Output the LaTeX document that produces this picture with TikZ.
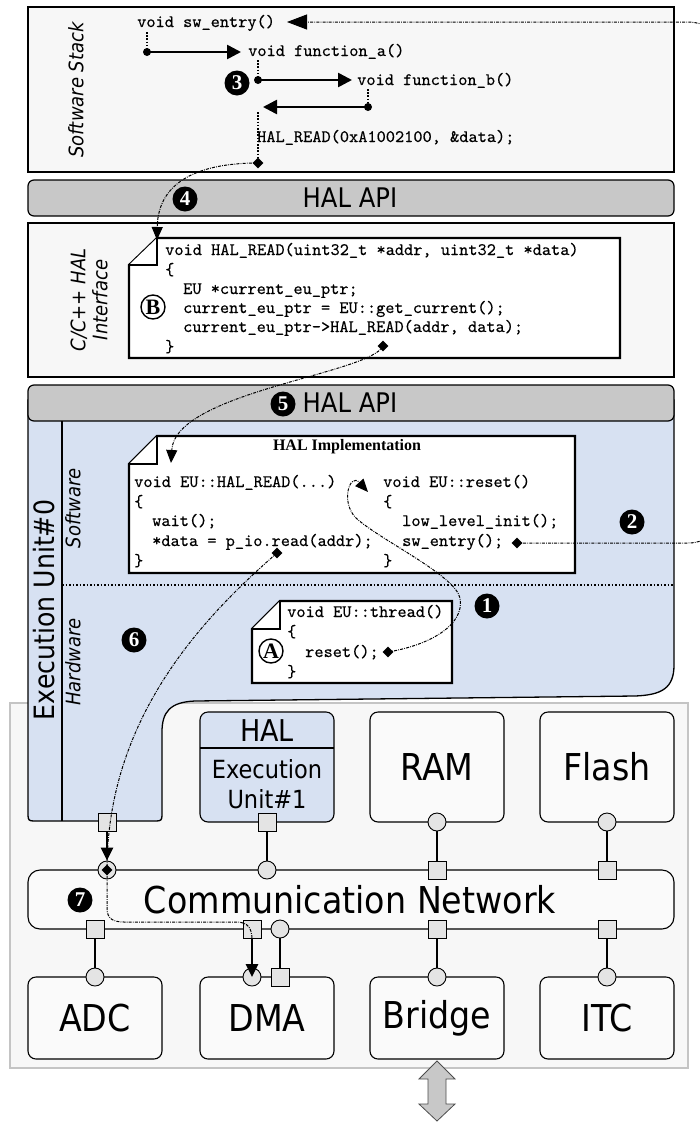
\documentclass[tikz,border=0pt]{standalone}
\usepackage{fontspec}
\newfontfamily\dv[FakeStretch=0.9]{DejaVu Sans}
\newfontfamily\tms{Liberation Serif}
\newfontfamily\cf[Extension=.otf, FakeBold=0.35]{lmmono10-regular}
\usetikzlibrary{arrows.meta,shapes.geometric}
\definecolor{eublue}{HTML}{D7E1F2}
\definecolor{bargray}{HTML}{C8C8C8}
\definecolor{panel}{HTML}{F7F7F7}
\definecolor{portgray}{HTML}{E4E4E4}
\definecolor{outerline}{HTML}{C4C4C4}
\definecolor{blockfill}{HTML}{FAFAFA}
\newcommand\codefont{\cf\fontsize{17.5}{19.5}\selectfont}
\newcommand\fsz[1]{\fontsize{#1}{#1}\selectfont}
\begin{document}
\begin{tikzpicture}[x=1pt,y=-1pt,
  code/.style={font=\codefont, anchor=base west, inner sep=0pt},
  side/.style={font=\dv\itshape\fsz{20}, rotate=90, inner sep=0pt, align=center},
  panelbox/.style={fill=panel, draw=black, line width=1.2pt},
  bar/.style={fill=bargray, draw=black, line width=1.2pt, rounded corners=6pt},
  notebox/.style={fill=white, draw=black, line width=2.2pt, line join=miter},
  blk/.style={draw=black, fill=blockfill, line width=1.1pt, rounded corners=8pt, minimum width=134pt, inner sep=0pt, font=\dv\fsz{37}},
  psq/.style={rectangle, draw=black, fill=portgray, line width=0.9pt, minimum size=18pt, inner sep=0pt},
  pci/.style={circle, draw=black, fill=portgray, line width=0.9pt, minimum size=18pt, inner sep=0pt},
  wire/.style={line width=2.5pt},
  bigarrow/.style={line width=2.6pt, -{Triangle[length=14pt,width=14pt]}},
  portarrow/.style={line width=2.5pt, -{Triangle[length=13pt,width=12pt]}},
  flow/.style={line width=1pt, dash pattern=on 3pt off 1.2pt on 0.8pt off 1.2pt},
  flowarrow/.style={flow, -{Triangle[length=13pt,width=11pt]}},
  vdots/.style={line width=1.8pt, dash pattern=on 1.6pt off 1.6pt},
  cdot/.style={circle, fill=black, inner sep=0pt, minimum size=8pt},
  dmd/.style={diamond, fill=black, inner sep=0pt, minimum size=11pt},
  badge/.style={circle, fill=black, text=white, inner sep=0pt, minimum size=25pt, font=\tms\bfseries\fsz{21}},
  letter/.style={circle, draw=black, line width=1.4pt, inner sep=0pt, minimum size=24pt, font=\tms\bfseries\fsz{22}},
]
\useasboundingbox (0,0) rectangle (700,1122);
\fill[white] (0,0) rectangle (700,1122);
% system box
\draw[fill=panel, draw=outerline, line width=1.5pt] (10,703) rectangle (688,1068);
% layers
\draw[panelbox] (28,7) rectangle (674,172);
\draw[bar] (28,180) rectangle (674,216);
\draw[panelbox] (28,223) rectangle (674,377);
% execution unit #0
\draw[fill=eublue, draw=black, line width=1.3pt] (28,400) -- (674,400) -- (674,665)
  .. controls (674,688) and (662,695) .. (635,696) -- (195,701)
  .. controls (170,702) and (162,712) .. (162,732) -- (162,815)
  .. controls (162,820) and (161,821) .. (156,821) -- (34,821)
  .. controls (29,821) and (28,820) .. (28,815) -- cycle;
\draw[bar] (28,385) rectangle (674,421);
\draw[line width=1.1pt] (62,421) -- (62,821);
\draw[line width=1.5pt, dotted] (62,585) -- (674,585);

% layer labels
\node[font=\dv\fsz{27}] (api1) at (350,198) {HAL API};
\node[font=\dv\fsz{27}] (api2) at (350,403) {HAL API};
\node[side] (sws) at (76,90) {Software Stack};
\node[side, font=\dv\itshape\fontsize{20}{22}\selectfont] (cif) at (89,300) {C/C++ HAL\\Interface};
\node[font=\dv\fsz{28}, rotate=90, inner sep=0pt] (eu0) at (44,610) {Execution Unit\#0};
\node[side] (swl) at (73,508) {Software};
\node[side] (hwl) at (73,662) {Hardware};

% software stack calls
\node[code] (t1) at (137,27) {void sw\_entry()};
\node[code] (t2) at (248,56) {void function\_a()};
\node[code] (t3) at (357,85) {void function\_b()};
\draw[vdots] (258,112) -- (258,160);
\node[code] (t4) at (257,142) {HAL\_READ(0xA1002100, \&data);};
\coordinate (v1) at (147,32);
\node[cdot] (c1) at (147,52) {};
\coordinate (e1) at (241,52);
\draw[vdots] (v1) -- (c1.center);
\draw[bigarrow] (c1.center) -- (e1);
\coordinate (v2) at (258,60);
\node[cdot] (c2) at (258,80) {};
\coordinate (e2) at (352,80);
\draw[vdots] (v2) -- (c2.center);
\draw[bigarrow] (c2.center) -- (e2);
\coordinate (v3) at (368,89);
\node[cdot] (c3) at (368,107) {};
\coordinate (e3) at (263,107);
\draw[vdots] (v3) -- (c3.center);
\draw[bigarrow] (c3.center) -- (e3);

% note B
\draw[notebox] (157,238) -- (620,238) -- (620,358) -- (129,358) -- (129,265) -- cycle;
\draw[notebox] (129,265) -- (157,265) -- (157,238);
\node[code] (b1) at (165,255) {void HAL\_READ(uint32\_t *addr, uint32\_t *data)};
\node[code] (b2) at (165,275) {\{};
\node[code] (b3) at (183,294) {EU *current\_eu\_ptr;};
\node[code] (b4) at (183,313) {current\_eu\_ptr = EU::get\_current();};
\node[code] (b5) at (183,332) {current\_eu\_ptr->HAL\_READ(addr, data);};
\node[code] (b6) at (165,352) {\}};
\node[letter] (lb) at (153,307) {B};

% HAL implementation note
\draw[notebox] (157,436) -- (575,436) -- (575,573) -- (129,573) -- (129,464) -- cycle;
\draw[notebox] (129,464) -- (157,464) -- (157,436);
\node[font=\tms\bfseries\fsz{16}] (himp) at (347,447) {HAL Implementation};
\node[code] (h1) at (134,487) {void EU::HAL\_READ(...)};
\node[code] (h2) at (134,507) {\{};
\node[code] (h3) at (152,526) {wait();};
\node[code] (h4) at (152,546) {*data = p\_io.read(addr);};
\node[code] (h5) at (134,566) {\}};
\node[code] (r1) at (383,487) {void EU::reset()};
\node[code] (r2) at (383,507) {\{};
\node[code] (r3) at (402,526) {low\_level\_init();};
\node[code] (r4) at (402,546) {sw\_entry();};
\node[code] (r5) at (383,566) {\}};

% note A
\draw[notebox] (280,601) -- (452,601) -- (452,683) -- (252,683) -- (252,629) -- cycle;
\draw[notebox] (252,629) -- (280,629) -- (280,601);
\node[code] (a1t) at (287,617) {void EU::thread()};
\node[code] (a2t) at (287,637) {\{};
\node[code] (a3t) at (305,657) {reset();};
\node[code] (a4t) at (287,677) {\}};
\node[letter] (la) at (271,651) {A};

% hardware blocks
\node[blk, fill=eublue, minimum height=110pt] (eu1) at (267,767) {};
\draw[line width=1.1pt] (200,748) -- (334,748);
\node[font=\dv\fsz{30}] (eu1h) at (267,731) {HAL};
\node[font=\dv\fontsize{25}{30}\selectfont, align=center] (eu1t) at (267,784) {Execution\\Unit\#1};
\node[blk, minimum height=110pt] (ram) at (437,767) {RAM};
\node[blk, minimum height=110pt] (flash) at (607,767) {Flash};
\node[blk, minimum width=646pt, minimum height=59pt, rounded corners=12pt] (net) at (351,899.5) {};
\node[font=\dv\fsz{37}] (netl) at (350,900) {Communication Network};
\node[blk, minimum height=82pt] (adc) at (95,1018) {ADC};
\node[blk, minimum height=82pt] (dma) at (267,1018) {DMA};
\node[blk, minimum height=82pt] (bridge) at (437,1018) {Bridge};
\node[blk, minimum height=82pt] (itc) at (607,1018) {ITC};

% ports
\node[psq] (eu0p) at (107,822) {};
\node[pci] (netA) at (107,870) {};
\node[psq] (eu1p) at (267,822) {};
\node[pci] (netB) at (267,870) {};
\node[pci] (ramp) at (437,822) {};
\node[psq] (netC) at (437,870) {};
\node[pci] (flashp) at (607,822) {};
\node[psq] (netD) at (607,870) {};
\node[psq] (netE) at (95,929) {};
\node[pci] (adcp) at (95,977) {};
\node[psq] (netF) at (252,929) {};
\node[pci] (dmap1) at (252,977) {};
\node[pci] (netG) at (280,929) {};
\node[psq] (dmap2) at (280,977) {};
\node[psq] (netH) at (437,929) {};
\node[pci] (bridgep) at (437,977) {};
\node[psq] (netI) at (607,929) {};
\node[pci] (itcp) at (607,977) {};
\draw[wire] (eu1p) -- (netB);
\draw[wire] (ramp) -- (netC);
\draw[wire] (flashp) -- (netD);
\draw[wire] (netE) -- (adcp);
\draw[wire] (netG) -- (dmap2);
\draw[wire] (netH) -- (bridgep);
\draw[wire] (netI) -- (itcp);
\draw[portarrow] (eu0p) -- (netA.north);
\draw[portarrow] (netF) -- (dmap1.center);

% bridge external link
\draw[fill=bargray, draw=black!70, line width=0.8pt] (437,1061) -- (455,1079) -- (446,1079) -- (446,1104) -- (455,1104) -- (437,1121) -- (419,1104) -- (428,1104) -- (428,1079) -- (419,1079) -- cycle;

% flows
\node[dmd] (d4) at (258,163) {};
\coordinate (a4) at (157,240);
\draw[flowarrow] (d4.center) .. controls (205,163) and (158,178) .. (a4);
\node[dmd] (d5) at (383,346) {};
\coordinate (a5) at (171,463);
\draw[flowarrow] (d5.center) .. controls (370,374) and (175,392) .. (a5);
\node[dmd] (d6) at (277,553) {};
\draw[flow] (d6.center) .. controls (200,620) and (107,720) .. (netA.center);
\node[dmd] (d1) at (388,652) {};
\coordinate (a1) at (368,492);
\draw[flowarrow] (d1.center) .. controls (430,645) and (465,625) .. (460,598)
  .. controls (455,575) and (380,540) .. (356,518)
  .. controls (340,502) and (350,472) .. (a1);
\node[dmd] (d2) at (517,543) {};
\coordinate (a2) at (287,22);
\draw[flow, -{Triangle[length=20pt,width=15pt]}] (d2.center) -- (688,543)
  .. controls (705,543) and (712,535) .. (712,520) -- (712,45)
  .. controls (712,30) and (705,22) .. (688,22) -- (a2);
\node[dmd] (d7) at (107,870) {};
\coordinate (a7) at (252,940);
\draw[flow] (d7.center) -- (107,908) .. controls (107,918) and (112,922) .. (124,922)
  -- (236,922) .. controls (248,922) and (252,928) .. (a7);

% step badges
\node[badge] (n1) at (487,606) {1};
\node[badge] (n2) at (632,522) {2};
\node[badge] (n3) at (237,83) {3};
\node[badge] (n4) at (185,199) {4};
\node[badge] (n5) at (283,404) {5};
\node[badge] (n6) at (134,640) {6};
\node[badge] (n7) at (80,900) {7};
\end{tikzpicture}
\end{document}
